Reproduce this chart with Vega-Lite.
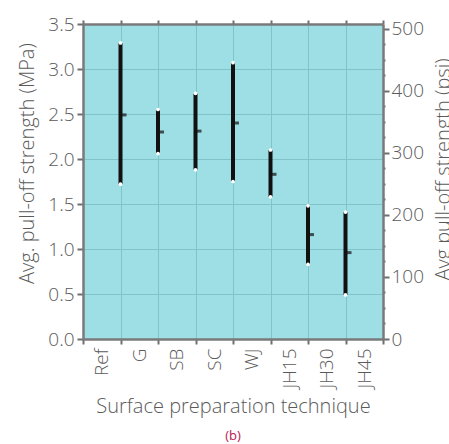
{
  "$schema": "https://vega.github.io/schema/vega-lite/v6.json",
  "autosize": {"type": "none"},
  "width": 300,
  "height": 315,
  "padding": {"left": 83, "top": 24, "right": 66, "bottom": 105},
  "background": "white",
  "datasets": {
    "bars": [
      {"technique": "G", "min": 1.72, "mean": 2.49, "max": 3.29},
      {"technique": "SB", "min": 2.06, "mean": 2.3, "max": 2.55},
      {"technique": "SC", "min": 1.88, "mean": 2.31, "max": 2.73},
      {"technique": "WJ", "min": 1.75, "mean": 2.4, "max": 3.07},
      {"technique": "JH15", "min": 1.58, "mean": 1.83, "max": 2.1},
      {"technique": "JH30", "min": 0.83, "mean": 1.16, "max": 1.48},
      {"technique": "JH45", "min": 0.49, "mean": 0.96, "max": 1.41}
    ]
  },
  "data": {"name": "bars"},
  "title": {
    "text": "(b)",
    "orient": "bottom",
    "anchor": "middle",
    "color": "#b8164f",
    "fontSize": 13,
    "font": "Open Sans",
    "fontWeight": "normal",
    "offset": 14
  },
  "layer": [
    {
      "encoding": {
        "x": {
          "field": "technique",
          "type": "nominal",
          "bandPosition": 0,
          "scale": {"domain": ["Ref", "G", "SB", "SC", "WJ", "JH15", "JH30", "JH45"], "paddingInner": 0, "paddingOuter": 0},
          "axis": {
            "orient": "bottom",
            "title": "Surface preparation technique",
            "labelAngle": 270,
            "tickBand": "extent",
            "ticks": true,
            "tickSize": 5,
            "grid": true,
            "labelPadding": 4,
            "titlePadding": 8
          }
        }
      },
      "layer": [
        {
          "mark": {"type": "rule", "strokeWidth": 4, "color": "#111111"},
          "encoding": {
            "y": {
              "field": "min",
              "type": "quantitative",
              "title": "Avg. pull-off strength (MPa)",
              "scale": {"domain": [0, 3.5], "nice": false, "zero": false},
              "axis": {
                "orient": "left",
                "values": [0, 0.5, 1, 1.5, 2, 2.5, 3, 3.5],
                "format": ".1f",
                "labelOverlap": false,
                "tickSize": 6,
                "grid": true,
                "labelPadding": 3,
                "titleX": -50,
                "titleY": 139,
                "titleBaseline": "alphabetic"
              }
            },
            "y2": {"field": "max"}
          }
        },
        {
          "mark": {"type": "point", "filled": true, "color": "#ffffff", "opacity": 1, "size": 14},
          "encoding": {
            "y": {"field": "min", "type": "quantitative", "title": "Avg. pull-off strength (MPa)"}
          }
        },
        {
          "mark": {"type": "point", "filled": true, "color": "#ffffff", "opacity": 1, "size": 14},
          "encoding": {
            "y": {"field": "max", "type": "quantitative", "title": "Avg. pull-off strength (MPa)"}
          }
        },
        {
          "mark": {"type": "tick", "color": "#111111", "size": 6, "thickness": 3, "xOffset": -15.75, "orient": "horizontal"},
          "encoding": {
            "y": {"field": "mean", "type": "quantitative", "title": "Avg. pull-off strength (MPa)"}
          }
        }
      ]
    },
    {
      "mark": {"type": "point", "opacity": 0},
      "encoding": {
        "x": {
          "field": "technique",
          "type": "nominal",
          "axis": {
            "orient": "top",
            "labels": false,
            "title": null,
            "tickBand": "extent",
            "ticks": true,
            "tickSize": 4,
            "grid": false
          }
        },
        "y": {
          "field": "max",
          "type": "quantitative",
          "scale": {"domain": [0, 507.6], "nice": false, "zero": false},
          "axis": {
            "orient": "right",
            "title": "Avg pull-off strength (psi)",
            "titleAngle": 270,
            "values": [0, 25, 50, 75, 100, 125, 150, 175, 200, 225, 250, 275, 300, 325, 350, 375, 400, 425, 450, 475, 500],
            "labelExpr": "datum.value % 100 == 0 ? datum.value : ''",
            "labelOverlap": false,
            "tickSize": {"condition": {"test": "datum.value % 100 != 0", "value": 2}, "value": 6},
            "grid": false,
            "labelPadding": 2,
            "titleX": 66,
            "titleY": 145,
            "titleBaseline": "alphabetic"
          }
        }
      }
    }
  ],
  "resolve": {"scale": {"y": "independent"}, "axis": {"x": "independent"}},
  "config": {
    "view": {"fill": "#9edfe5", "stroke": null},
    "axis": {
      "labelFont": "Open Sans",
      "titleFont": "Open Sans",
      "labelFontSize": 19,
      "titleFontSize": 20,
      "labelFontWeight": 300,
      "titleFontWeight": 300,
      "labelColor": "#5a5a5a",
      "titleColor": "#5a5a5a",
      "domainColor": "#7a7a7a",
      "domainWidth": 2.5,
      "tickColor": "#6f6f6f",
      "tickWidth": 2,
      "gridColor": "#80c4ca",
      "gridWidth": 1
    }
  }
}
